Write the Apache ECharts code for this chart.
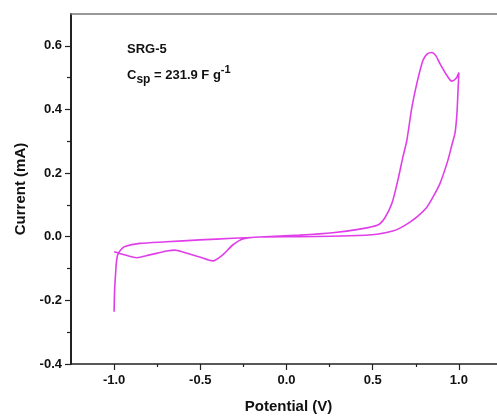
<!DOCTYPE html>
<html>
<head>
<meta charset="utf-8">
<script src="https://cdn.jsdelivr.net/npm/echarts@6/dist/echarts.min.js"></script>
<style>
html,body{margin:0;padding:0;background:#fff;}
#chart{width:497px;height:417px;}
</style>
</head>
<body>
<div id="chart"></div>
<script>
// Forward (anodic) scan: -1.0 V -> 1.0 V
var vForward = [-1.0, -0.997, -0.99, -0.987, -0.979, -0.962, -0.938, -0.851, -0.696, -0.503, -0.312, -0.155, 0.077, 0.269, 0.425, 0.53, 0.57, 0.612, 0.646, 0.675, 0.698, 0.727, 0.756, 0.791, 0.815, 0.843, 0.865, 0.89, 0.93, 0.958, 0.983, 1.0];
var iForward = [-0.236, -0.167, -0.104, -0.082, -0.057, -0.042, -0.031, -0.021, -0.016, -0.010, -0.005, -0.001, 0.005, 0.0125, 0.024, 0.037, 0.059, 0.106, 0.178, 0.25, 0.303, 0.406, 0.482, 0.554, 0.574, 0.579, 0.57, 0.544, 0.507, 0.489, 0.497, 0.516];
// Reverse (cathodic) scan: 1.0 V -> -1.0 V
var vReverse = [0.995, 0.99, 0.984, 0.977, 0.96, 0.936, 0.89, 0.85, 0.814, 0.762, 0.716, 0.658, 0.617, 0.524, 0.367, 0.077, -0.155, -0.253, -0.312, -0.37, -0.428, -0.503, -0.602, -0.648, -0.695, -0.793, -0.869, -0.956, -1.0];
var iReverse = [0.46, 0.40, 0.356, 0.325, 0.29, 0.24, 0.167, 0.125, 0.093, 0.065, 0.046, 0.027, 0.018, 0.008, 0.003, 0.0, -0.001, -0.007, -0.026, -0.057, -0.076, -0.064, -0.048, -0.042, -0.045, -0.057, -0.066, -0.054, -0.047];

var xMajor = [-1.0, -0.5, 0.0, 0.5, 1.0];
var xMinor = [-0.75, -0.25, 0.25, 0.75];
var yMajor = [-0.4, -0.2, 0.0, 0.2, 0.4, 0.6];
var yMinor = [-0.3, -0.1, 0.1, 0.3, 0.5];

var data = [];
for (var i = 0; i < vForward.length; i++) data.push([vForward[i], iForward[i]]);
for (var j = 0; j < vReverse.length; j++) data.push([vReverse[j], iReverse[j]]);

var FONT = 'Arial, "Liberation Sans", sans-serif';
var chart = echarts.init(document.getElementById('chart'), null, {renderer: 'canvas'});
var fmt = function (v) { return (+v).toFixed(1); };
var X_MIN = -1.25, X_MAX = 1.25;

chart.setOption({
  animation: false,
  backgroundColor: '#ffffff',
  grid: {left: 71, top: 14, width: 431, height: 350, containLabel: false, outerBoundsMode: 'none'},
  xAxis: [{
    type: 'value', min: X_MIN, max: X_MAX, position: 'bottom',
    name: 'Potential (V)', nameLocation: 'middle', nameGap: 35,
    nameTextStyle: {fontFamily: FONT, fontWeight: 'bold', fontSize: 15, color: '#111', padding: [0, 0, 0, 4]},
    axisLine: {show: true, onZero: false, lineStyle: {color: '#222', width: 1.5}},
    axisTick: {show: true, inside: false, length: 6, customValues: xMajor, lineStyle: {color: '#222', width: 1.2}},
    axisLabel: {show: true, customValues: xMajor, formatter: fmt, margin: 10, fontFamily: FONT, fontWeight: 'bold', fontSize: 13, color: '#111'},
    splitLine: {show: false}
  }, {
    type: 'value', min: X_MIN, max: X_MAX, position: 'bottom',
    axisLine: {show: false, onZero: false},
    axisTick: {show: true, inside: false, length: 3, customValues: xMinor, lineStyle: {color: '#222', width: 1.2}},
    axisLabel: {show: false},
    splitLine: {show: false}
  }, {
    type: 'value', min: X_MIN, max: X_MAX, position: 'top',
    axisLine: {show: true, onZero: false, lineStyle: {color: '#777', width: 1.5}},
    axisTick: {show: false}, axisLabel: {show: false}, splitLine: {show: false}
  }],
  yAxis: [{
    type: 'value', min: -0.4, max: 0.7, position: 'left',
    name: 'Current (mA)', nameLocation: 'middle', nameGap: 43, nameRotate: 90,
    nameTextStyle: {fontFamily: FONT, fontWeight: 'bold', fontSize: 15, color: '#111'},
    axisLine: {show: true, onZero: false, lineStyle: {color: '#222', width: 2}},
    axisTick: {show: true, inside: false, length: 6, customValues: yMajor, lineStyle: {color: '#222', width: 1.2}},
    axisLabel: {show: true, customValues: yMajor, formatter: fmt, margin: 9, fontFamily: FONT, fontWeight: 'bold', fontSize: 13, color: '#111'},
    splitLine: {show: false}
  }, {
    type: 'value', min: -0.4, max: 0.7, position: 'left',
    axisLine: {show: false, onZero: false},
    axisTick: {show: true, inside: false, length: 4, customValues: yMinor, lineStyle: {color: '#222', width: 1.2}},
    axisLabel: {show: false},
    splitLine: {show: false}
  }],
  series: [{
    type: 'line', xAxisIndex: 0, yAxisIndex: 0,
    data: data, showSymbol: false, symbol: 'none', smooth: 0.25,
    lineStyle: {color: '#e03ee8', width: 1.6}
  }],
  graphic: [{
    type: 'text', left: 127, top: 43,
    style: {text: 'SRG-5', font: 'bold 13px ' + FONT, fill: '#111'}
  }, {
    type: 'text', left: 127, top: 64,
    style: {
      text: '{a|C}{sub|sp}{a| = 231.9 F g}{sup|-1}',
      rich: {
        a: {fontFamily: FONT, fontWeight: 'bold', fontSize: 13, lineHeight: 22, fill: '#111', color: '#111'},
        sub: {fontFamily: FONT, fontWeight: 'bold', fontSize: 12, lineHeight: 12, verticalAlign: 'bottom', fill: '#111', color: '#111'},
        sup: {fontFamily: FONT, fontWeight: 'bold', fontSize: 11, lineHeight: 11, verticalAlign: 'top', fill: '#111', color: '#111'}
      }
    }
  }]
});
</script>
</body>
</html>
